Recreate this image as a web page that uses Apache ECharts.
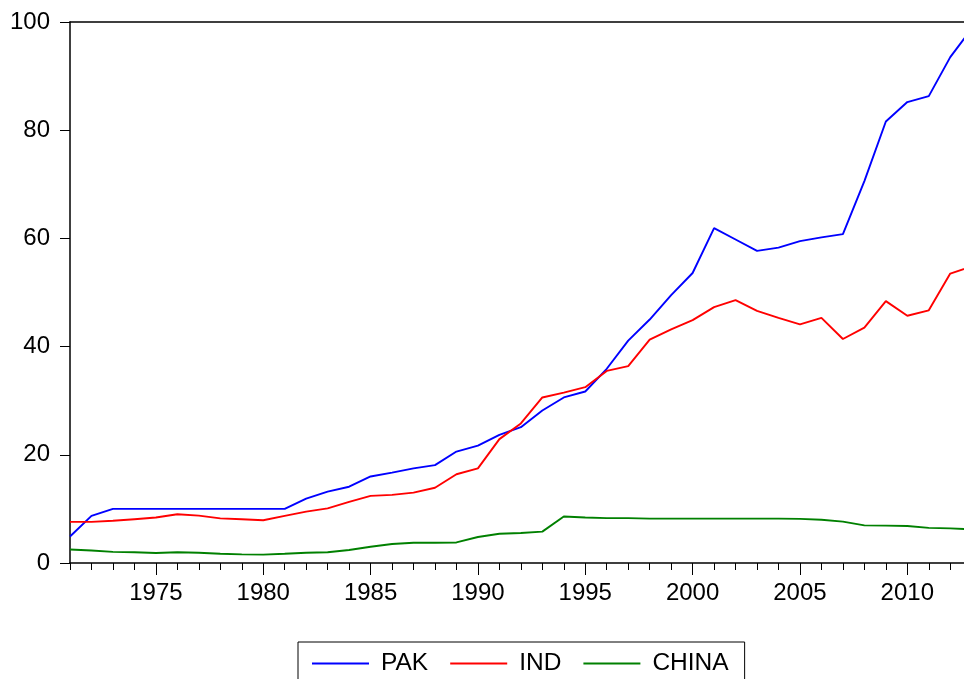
<!DOCTYPE html>
<html>
<head>
<meta charset="utf-8">
<script src="https://cdn.jsdelivr.net/npm/echarts@6/dist/echarts.min.js"></script>
<style>
  html, body { margin: 0; padding: 0; background: #fff; }
  #chart { width: 964px; height: 679px; }
</style>
</head>
<body>
<div id="chart"></div>
<script>
// years 1971..2013
const years = []
for (let y = 1971; y <= 2013; y++) years.push(y)

const pak = [
  4.9, 8.7, 10.0, 10.0, 10.0, 10.0, 10.0, 10.0, 10.0, 10.0,
  10.0, 11.9, 13.2, 14.1, 16.0, 16.7, 17.5, 18.1, 20.6, 21.7,
  23.7, 25.1, 28.2, 30.6, 31.7, 35.9, 41.1, 45.0, 49.5, 53.6,
  61.9, 59.8, 57.7, 58.3, 59.5, 60.2, 60.8, 70.6, 81.6, 85.2,
  86.3, 93.5, 98.8
]
const ind = [
  7.6, 7.6, 7.8, 8.1, 8.4, 9.0, 8.75, 8.25, 8.1, 7.9,
  8.7, 9.5, 10.1, 11.3, 12.4, 12.6, 13.0, 13.9, 16.4, 17.5,
  22.9, 25.8, 30.6, 31.5, 32.5, 35.5, 36.4, 41.3, 43.2, 44.9,
  47.3, 48.6, 46.6, 45.3, 44.1, 45.3, 41.4, 43.5, 48.4, 45.7,
  46.7, 53.5, 54.8
]
const china = [
  2.5, 2.3, 2.05, 2.0, 1.85, 2.0, 1.9, 1.7, 1.6, 1.55,
  1.7, 1.9, 2.0, 2.4, 3.0, 3.5, 3.75, 3.75, 3.8, 4.8,
  5.4, 5.55, 5.8, 8.6, 8.4, 8.3, 8.3, 8.2, 8.2, 8.2,
  8.2, 8.2, 8.2, 8.2, 8.15, 8.0, 7.65, 6.95, 6.9, 6.85,
  6.5, 6.4, 6.2
]
const yearTicks = years.slice(0, 42)
const yearLabels = [1975, 1980, 1985, 1990, 1995, 2000, 2005, 2010]

const FONT = "'Liberation Sans', Arial, sans-serif"
const xMin = 1971
const xMax = 2012.64

function pairs(vals) {
  return years.map((y, i) => [y, vals[i]])
}

const chart = echarts.init(document.getElementById('chart'), null, { renderer: 'canvas' })

const baseX = {
  type: 'value',
  min: xMin,
  max: xMax,
  splitLine: { show: false },
  axisLine: { show: true, onZero: false, lineStyle: { color: '#000', width: 1.5 } }
}

chart.setOption({
  animation: false,
  backgroundColor: '#fff',
  grid: { left: 70, right: 0, top: 22, bottom: 116, containLabel: false },
  legend: {
    left: 298,
    top: 642,
    orient: 'horizontal',
    padding: [9, 16, 9, 14],
    borderColor: '#000',
    borderWidth: 1,
    itemGap: 22,
    itemWidth: 57,
    itemHeight: 2,
    icon: 'rect',
    textStyle: { fontFamily: FONT, fontSize: 24.5, color: '#000', padding: [0, 0, 0, 7] },
    data: ['PAK', 'IND', 'CHINA']
  },
  xAxis: [
    Object.assign({}, baseX, {
      position: 'bottom',
      axisTick: { show: true, customValues: yearTicks, length: 7, lineStyle: { color: '#000', width: 1 } },
      axisLabel: { show: false }
    }),
    Object.assign({}, baseX, {
      position: 'bottom',
      axisLine: { show: false },
      axisTick: { show: true, customValues: yearLabels, length: 12, lineStyle: { color: '#000', width: 1 } },
      axisLabel: {
        show: true,
        customValues: yearLabels,
        formatter: (v) => String(v),
        margin: 18,
        fontFamily: FONT,
        fontSize: 24,
        color: '#000'
      }
    }),
    Object.assign({}, baseX, {
      position: 'top',
      axisTick: { show: false },
      axisLabel: { show: false }
    })
  ],
  yAxis: {
    type: 'value',
    min: 0,
    max: 100,
    interval: 20,
    splitLine: { show: false },
    axisLine: { show: true, lineStyle: { color: '#000', width: 1.5 } },
    axisTick: { show: true, length: 10, lineStyle: { color: '#000', width: 1 } },
    axisLabel: { margin: 20, fontFamily: FONT, fontSize: 24, color: '#000', padding: [0, 0, 4, 0] }
  },
  series: [
    { name: 'PAK', type: 'line', data: pairs(pak), showSymbol: false, color: '#0000ff', lineStyle: { width: 1.9 } },
    { name: 'IND', type: 'line', data: pairs(ind), showSymbol: false, color: '#ff0000', lineStyle: { width: 1.9 } },
    { name: 'CHINA', type: 'line', data: pairs(china), showSymbol: false, color: '#008000', lineStyle: { width: 1.9 } }
  ]
})
</script>
</body>
</html>
